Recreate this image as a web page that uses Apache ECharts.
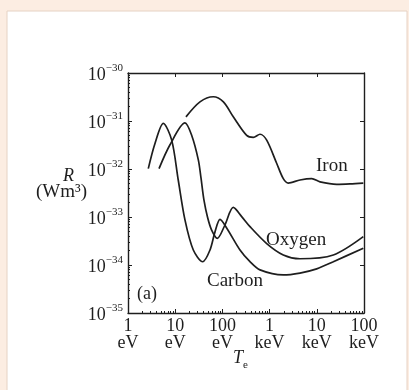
<!DOCTYPE html>
<html><head><meta charset="utf-8">
<script src="https://cdn.jsdelivr.net/npm/echarts@6/dist/echarts.min.js"></script>
<style>html,body{margin:0;padding:0;background:#fcede2;}#c{width:409px;height:390px;}</style>
</head><body><div id="c"></div>
<script>
// Temperature in eV, R in W m^3
const carbonT = [2.69, 3.73, 5.6, 8.43, 11.6, 16.1, 24.2, 38.3, 54.6, 69.7, 89, 123, 236, 384, 626, 1950, 4400, 9950, 22400, 96600];
const carbonR = [1.02e-32, 3.4e-32, 8.9e-32, 4.0e-32, 5.9e-33, 8.7e-34, 2.05e-34, 1.17e-34, 2.05e-34, 4.9e-34, 8.9e-34, 5.9e-34, 2.05e-34, 1.17e-34, 7.9e-35, 6.2e-35, 6.8e-35, 8.3e-35, 1.17e-34, 2.24e-34];
const oxygenT = [4.54, 7.76, 16.1, 22.4, 30.9, 35.2, 40.7, 48.3, 58.8, 78, 113, 170, 256, 384, 868, 1950, 4400, 22400, 96600];
const oxygenR = [1.02e-32, 3.2e-32, 9.1e-32, 5.0e-32, 1.55e-32, 6.5e-33, 2.24e-33, 1.0e-33, 5.4e-34, 3.6e-34, 6.8e-34, 1.58e-33, 1.02e-33, 6.3e-34, 2.8e-34, 1.62e-34, 1.35e-34, 1.62e-34, 3.9e-34];
const ironT = [16.9, 33.5, 64, 105, 170, 327, 452, 626, 868, 1410, 1950, 2490, 4400, 7800, 11700, 26400, 50500, 96600];
const ironR = [1.22e-31, 2.5e-31, 3.2e-31, 2.5e-31, 1.22e-31, 5.0e-32, 4.55e-32, 5.3e-32, 4.0e-32, 1.32e-32, 6.3e-33, 5.1e-33, 5.9e-33, 6.3e-33, 5.4e-33, 4.8e-33, 4.9e-33, 5.1e-33];
const xTickLabels = {1: '1\neV', 10: '10\neV', 100: '100\neV', 1000: '1\nkeV', 10000: '10\nkeV', 100000: '100\nkeV'};
const rUnitExp = -30; // y axis plotted in units of 1e-30 W m^3 (avoids float rounding)

const ink = '#1e1e1e';
const font = '"Liberation Serif", "DejaVu Serif", serif';
const scaleR = r => r / Math.pow(10, rUnitExp);
const zip = (a, b) => a.map((v, i) => [v, scaleR(b[i])]);
const chart = echarts.init(document.getElementById('c'));
const lineStyle = {color: ink, width: 1.7};
const mkSeries = (name, T, R) => ({
  name, type: 'line', data: zip(T, R), smooth: 0.3, symbol: 'none',
  lineStyle, xAxisIndex: 0, yAxisIndex: 0, animation: false
});
chart.setOption({
  backgroundColor: 'transparent',
  animation: false,
  grid: {left: 128, right: 45, top: 73, bottom: 77, show: false},
  xAxis: [{
    type: 'log', min: 1, max: 100000, position: 'bottom',
    axisLine: {lineStyle: {color: ink, width: 1.4}},
    axisTick: {inside: true, length: 4, lineStyle: {color: ink}},
    minorTick: {show: true, splitNumber: 9, length: 2, lineStyle: {color: ink}},
    splitLine: {show: false},
    axisLabel: {
      margin: 5, color: ink, fontFamily: font, fontSize: 18, lineHeight: 17,
      formatter: v => xTickLabels[Math.round(v)] || ''
    }
  }, {
    type: 'log', min: 1, max: 100000, position: 'top',
    axisLine: {lineStyle: {color: ink, width: 1.4}},
    axisTick: {inside: true, length: 4, lineStyle: {color: ink}},
    axisLabel: {show: false}, splitLine: {show: false}
  }],
  yAxis: [{
    type: 'log', min: 1e-5, max: 1, position: 'left',
    axisLine: {lineStyle: {color: ink, width: 1.4}},
    axisTick: {inside: true, length: 4, lineStyle: {color: ink}},
    minorTick: {show: true, splitNumber: 9, length: 2, lineStyle: {color: ink}},
    splitLine: {show: false},
    axisLabel: {
      margin: 5, color: ink, fontFamily: font, fontSize: 18,
      formatter: v => '{b|10}{s|' + (Math.round(Math.log10(v)) + rUnitExp).toString().replace('-', '\u2212') + '}',
      rich: {
        b: {fontFamily: font, fontSize: 18, color: ink, padding: [4, 0, 0, 0]},
        s: {fontFamily: font, fontSize: 11, color: ink, padding: [0, 0, 10, 0]}
      }
    }
  }, {
    type: 'log', min: 1e-5, max: 1, position: 'right',
    axisLine: {lineStyle: {color: ink, width: 1.4}},
    axisTick: {inside: true, length: 4, lineStyle: {color: ink}},
    axisLabel: {show: false}, splitLine: {show: false}
  }],
  series: [
    mkSeries('Carbon', carbonT, carbonR),
    mkSeries('Oxygen', oxygenT, oxygenR),
    mkSeries('Iron', ironT, ironR)
  ],
  graphic: [
    {type: 'rect', z: -10, shape: {x: 7, y: 11, width: 400, height: 380}, style: {fill: '#ffffff', stroke: '#e6d2c4', lineWidth: 1}},
    {type: 'text', left: 63, top: 167, style: {text: 'R', font: 'italic 18px ' + font, fill: ink}},
    {type: 'text', left: 36, top: 183, style: {text: '(Wm³)', font: '19px ' + font, fill: ink}},
    {type: 'text', left: 316, top: 157, style: {text: 'Iron', font: '19px ' + font, fill: ink}},
    {type: 'text', left: 266, top: 231, style: {text: 'Oxygen', font: '19px ' + font, fill: ink}},
    {type: 'text', left: 207, top: 272, style: {text: 'Carbon', font: '19px ' + font, fill: ink}},
    {type: 'text', left: 137, top: 285, style: {text: '(a)', font: '18px ' + font, fill: ink}},
    {type: 'text', left: 233, top: 349, style: {text: 'T', font: 'italic 18px ' + font, fill: ink}},
    {type: 'text', left: 243, top: 360, style: {text: 'e', font: '11px ' + font, fill: ink}}
  ]
});
</script></body></html>
